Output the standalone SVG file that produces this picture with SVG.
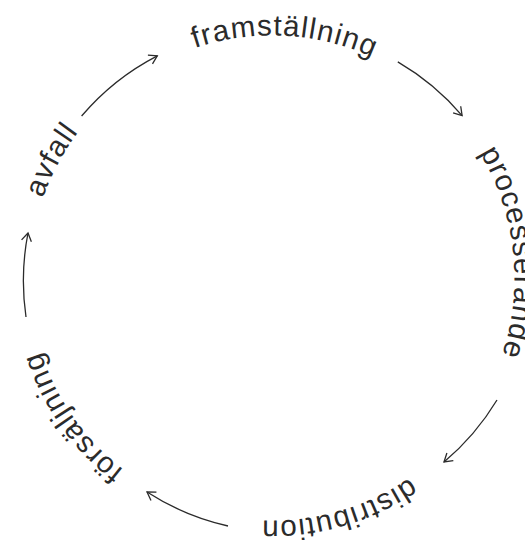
<svg xmlns="http://www.w3.org/2000/svg" xmlns:xlink="http://www.w3.org/1999/xlink" width="525" height="540" viewBox="0 0 525 540">
  <style>
    .lbl { font-family: "Liberation Sans", Arial, sans-serif; font-size: 29.5px; letter-spacing: 1.2px; fill: #2b2b2b; }
    .arc { fill: none; stroke: #2b2b2b; stroke-width: 1.3; marker-end: url(#head); }
  </style>
  <defs>
    <path id="ring" d="M 29.5,278 A 242.5,242.5 0 1 1 514.5,278 A 242.5,242.5 0 1 1 29.5,278"/>
    <marker id="head" markerUnits="userSpaceOnUse" markerWidth="12" markerHeight="12" viewBox="-10 -6 12 12" refX="0" refY="0" orient="auto">
      <path d="M -8,-5 L 0,0 L -8,5" fill="none" stroke="#2b2b2b" stroke-width="1.3"/>
    </marker>
  </defs>
  <rect width="525" height="540" fill="#ffffff"/>
  <g id="connectors">
    <path class="arc" d="M 81.6,116 A 250,250 0 0 1 157.3,55.8"/>
    <path class="arc" d="M 397.8,61.9 A 250,250 0 0 1 462.1,115.6"/>
    <path class="arc" d="M 497,400 A 250,250 0 0 1 444,462"/>
    <path class="arc" d="M 228,526 A 250,250 0 0 1 147,492"/>
    <path class="arc" d="M 26,317 A 250,250 0 0 1 28,233"/>
  </g>
  <g id="avfall">
    <text class="lbl"><textPath xlink:href="#ring" href="#ring" startOffset="81.3">avfall</textPath></text>
  </g>
  <g id="framstallning">
    <text class="lbl"><textPath xlink:href="#ring" href="#ring" startOffset="302.2">framställning</textPath></text>
  </g>
  <g id="processerande">
    <text class="lbl"><textPath xlink:href="#ring" href="#ring" startOffset="630">processerande</textPath></text>
  </g>
  <g id="distribution">
    <text class="lbl"><textPath xlink:href="#ring" href="#ring" startOffset="996">distribution</textPath></text>
  </g>
  <g id="forsaljning">
    <text class="lbl"><textPath xlink:href="#ring" href="#ring" startOffset="1301.5">försäljning</textPath></text>
  </g>
</svg>
